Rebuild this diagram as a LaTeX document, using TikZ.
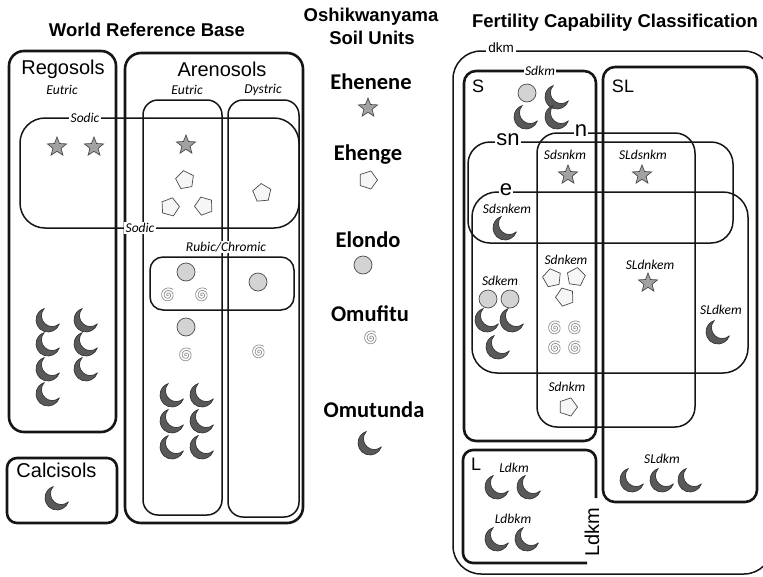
\documentclass[tikz,border=0pt]{standalone}
\usepackage{fontspec}
\setmainfont{Liberation Sans}
\newfontfamily\calibri{Carlito}
\usetikzlibrary{positioning}

\definecolor{boxline}{HTML}{151515}
\definecolor{symline}{HTML}{4A4A4A}
\definecolor{moonfill}{HTML}{595959}
\definecolor{moonline}{HTML}{363636}
\definecolor{starfill}{HTML}{A2A2A2}
\definecolor{pentfill}{HTML}{F6F6F6}
\definecolor{discfill}{HTML}{D3D3D3}
\definecolor{spiralline}{HTML}{8E8E8E}

\tikzset{
  pics/ehenene/.style={code={%
    \draw[fill=starfill, draw=symline, line width=0.7pt]
      (-90:10) \foreach \k in {1,...,9}{ -- ({-90+36*\k}:{10-5.7*mod(\k,2)}) } -- cycle;
  }},
  pics/ehenge/.style={code={%
    \draw[fill=pentfill, draw=symline, line width=0.7pt]
      (-90:9.5) -- (-18:9.5) -- (54:9.5) -- (126:9.5) -- (198:9.5) -- cycle;
  }},
  pics/elondo/.style={code={%
    \draw[fill=discfill, draw=symline, line width=0.7pt] (0,0) circle[radius=9];
  }},
  pics/omufitu/.style={code={%
    \draw[draw=spiralline, line width=0.7pt, variable=\t, domain=0:1030, samples=100, smooth]
      plot ({\t}:{0.0071*\t});
  }},
  pics/omutunda/.style={code={%
    \draw[fill=moonfill, draw=moonline, line width=0.7pt]
      (18.9:12) arc[start angle=18.9, end angle=251.1, radius=12]
      arc[start angle=-138.8, end angle=-311.2, radius=10.8] -- cycle;
  }},
}

\begin{document}
\begin{tikzpicture}[x=1pt, y=-1pt,
  thickbox/.style={draw=boxline, line width=2.6pt},
  thinbox/.style={draw=boxline, line width=1.5pt},
  heading/.style={font=\bfseries\fontsize{18.5}{22}\selectfont, inner sep=0pt},
  unitname/.style={font=\calibri\bfseries\fontsize{22.5}{26}\selectfont, inner sep=0pt},
  boxname/.style={font=\fontsize{20}{24}\selectfont, inner sep=0pt},
  classname/.style={font=\fontsize{18}{22}\selectfont, inner sep=0pt},
  lowname/.style={font=\fontsize{22}{26}\selectfont, inner sep=1pt, fill=white},
  tag/.style={font=\calibri\itshape\fontsize{13.5}{16}\selectfont, inner sep=1.5pt},
  linetag/.style={tag, fill=white}]
\useasboundingbox (0,0) rectangle (763,576);

% World Reference Base
\node[heading] (wrb) at (147,30) {World Reference Base};
\draw[thickbox, rounded corners=15pt] (9,51) rectangle (116,432);
\draw[thickbox, rounded corners=16pt] (125,53) rectangle (303,523);
\draw[thickbox, rounded corners=10pt] (7,458) rectangle (117,523);
\draw[thinbox, rounded corners=15pt] (143,100) rectangle (222,515);
\draw[thinbox, rounded corners=15pt] (228,100) rectangle (299,517);
\draw[thinbox, rounded corners=25pt] (20,118) rectangle (299,228);
\draw[thinbox, rounded corners=13pt] (150,257) rectangle (294,310);

\node[boxname] (regosols) at (63,69.5) {Regosols};
\node[boxname] (arenosols) at (222,69) {Arenosols};
\node[boxname] (calcisols) at (56.5,470.5) {Calcisols};
\node[tag] (eutricR) at (62,90) {Eutric};
\node[tag] (eutricA) at (187,90) {Eutric};
\node[tag] (dystric) at (263,90) {Dystric};
\node[linetag] (sodicTop) at (85,118) {Sodic};
\node[linetag] (sodicBot) at (140,228) {Sodic};
\node[linetag] (rubic) at (226,247) {Rubic/Chromic};

\foreach \x/\y in {57/147, 94/147, 186/145} \pic at (\x,\y) {ehenene};
\foreach \x/\y/\r in {185/180/10, 170/207/-15, 204/206/20, 262/193/5} \pic[rotate=\r] at (\x,\y) {ehenge};
\foreach \x/\y in {186/272, 258/282, 186/327} \pic at (\x,\y) {elondo};
\foreach \x/\y in {168/295, 202/295, 186/355, 259/352} \pic at (\x,\y) {omufitu};
\foreach \x/\y in {48/320, 86/320, 48/344, 86/344, 48/369, 86/369, 48/394,
                   172/395, 202/395, 172/421, 202/421, 172/447, 202/447, 57/498}
  \pic at (\x,\y) {omutunda};

% Oshikwanyama soil units
\node[heading] (oshi) at (371,17) {Oshikwanyama};
\node[heading] (units) at (372,38) {Soil Units};
\node[unitname] (ehenene) at (371,82) {Ehenene};
\node[unitname] (ehenge) at (368,155) {Ehenge};
\node[unitname] (elondo) at (368,239.5) {Elondo};
\node[unitname] (omufitu) at (370,314) {Omufitu};
\node[unitname] (omutunda) at (374,410) {Omutunda};
\pic at (368,108) {ehenene};
\pic[rotate=-18] at (368,180) {ehenge};
\pic at (363,265) {elondo};
\pic at (371,338) {omufitu};
\pic at (370,443) {omutunda};

% Fertility Capability Classification
\node[heading] (fcc) at (615,23) {Fertility Capability Classification};
\draw[thinbox, rounded corners=28pt] (453,51) rectangle (772,574);
\draw[thickbox, rounded corners=12pt] (464,71) rectangle (596,441);
\draw[thickbox, rounded corners=12pt] (603,67) rectangle (757,502);
\draw[thinbox, rounded corners=22pt] (468,142) rectangle (733,243);
\draw[thinbox, rounded corners=20pt] (537,133) rectangle (695,427);
\draw[thinbox, rounded corners=25pt] (472,192) rectangle (748,373);
\draw[thickbox, rounded corners=10pt] (587,563) -- (463,563) -- (463,450) -- (596,450) -- (596,498);

\node[font=\fontsize{13.5}{16}\selectfont, inner sep=2pt, fill=white] (dkm) at (501,48) {dkm};
\node[classname] (Sname) at (478,86) {S};
\node[classname] (SLname) at (623,86) {SL};
\node[classname] (Lname) at (476,464) {L};
\node[lowname] (snname) at (508,140) {sn};
\node[lowname] (nname) at (581,131) {n};
\node[lowname] (ename) at (506,190) {e};
\node[font=\fontsize{20}{24}\selectfont, inner sep=0pt, rotate=90] (Ldkmside) at (592,532) {Ldkm};

\node[linetag] (sdkm) at (540,71) {Sdkm};
\node[tag] (sdsnkm) at (565,155) {Sdsnkm};
\node[tag] (sldsnkm) at (643,155) {SLdsnkm};
\node[tag] (sdsnkem) at (507,209) {Sdsnkem};
\node[tag] (sdnkem) at (566,260) {Sdnkem};
\node[tag] (sdkem) at (500,281) {Sdkem};
\node[tag] (sldnkem) at (650,265) {SLdnkem};
\node[tag] (sldkem) at (721,310) {SLdkem};
\node[tag] (sdnkm) at (567,387) {Sdnkm};
\node[tag] (ldkm) at (514,468) {Ldkm};
\node[tag] (ldbkm) at (513,519) {Ldbkm};
\node[tag] (sldkm) at (662,459) {SLdkm};

\foreach \x/\y in {568/175, 642/175, 648/283} \pic at (\x,\y) {ehenene};
\foreach \x/\y/\r in {552/278/12, 576/277/-8, 565/297/20, 568/407/-18} \pic[rotate=\r] at (\x,\y) {ehenge};
\foreach \x/\y in {527/93, 488/299, 510/299} \pic at (\x,\y) {elondo};
\foreach \x/\y in {555/328, 575/328, 555/348, 575/348} \pic at (\x,\y) {omufitu};
\foreach \x/\y in {557/97, 526/117, 557/117, 505/228, 487/320, 512/320, 498/347,
                   718/332, 497/487, 529/487, 497/539, 527/539, 632/480, 662/480, 690/480}
  \pic at (\x,\y) {omutunda};
\end{tikzpicture}
\end{document}
